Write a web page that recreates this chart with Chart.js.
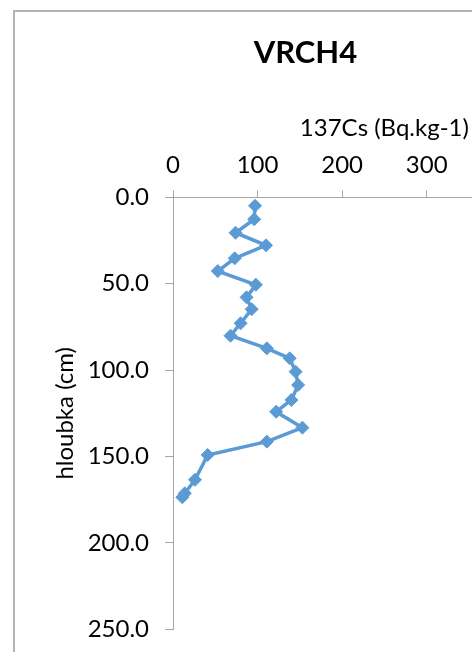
<!DOCTYPE html>
<html>
<head>
<meta charset="utf-8">
<script src="https://cdn.jsdelivr.net/npm/chart.js@4/dist/chart.umd.min.js"></script>
<style>
  html, body { margin: 0; padding: 0; background: #fff; overflow: hidden; width: 472px; height: 652px; }
  #frame { position: absolute; left: 13px; top: 10px; width: 640px; height: 700px; border: 2px solid #b4b4b4; background: #fff; }
  #c { position: absolute; left: 0; top: 0; }
</style>
</head>
<body>
<div id="frame"><canvas id="c" width="640" height="660"></canvas></div>
<script>
// Depth (cm) of each sample
const depths = [4.9, 12.7, 20.5, 27.8, 35.3, 42.7, 50.6, 57.9, 64.8, 72.9, 80.1, 87.4, 93.2, 100.9, 108.6, 117.3, 124.1, 133.3, 141.4, 149.1, 163.5, 171.3, 173.6];
// 137Cs activity (Bq/kg) at each depth
const activity = [97, 96, 74, 110, 73, 53, 98, 87, 93, 80, 68, 111, 138, 145, 148, 140, 122, 153, 111, 41, 26, 14, 11];
// Axis tick values
const xTicks = [0, 100, 200, 300, 400, 500];
const yTicks = [0, 50, 100, 150, 200, 250];

const chartTitle = 'VRCH4';
const xTitle = '137Cs (Bq.kg-1)';
const yTitle = 'hloubka (cm)';

const points = depths.map((d, i) => ({ x: activity[i], y: d }));
const FONT = 'Lato';
const AXIS = '#a6a6a6';
const BLUE = '#5b9bd5';

new Chart(document.getElementById('c'), {
  type: 'scatter',
  data: {
    datasets: [{
      data: points,
      showLine: true,
      borderColor: BLUE,
      backgroundColor: BLUE,
      borderWidth: 3.5,
      pointStyle: 'rectRot',
      pointRadius: 6.5,
      pointBorderWidth: 1,
      pointBorderColor: BLUE,
      pointBackgroundColor: BLUE,
      tension: 0
    }]
  },
  options: {
    responsive: false,
    animation: false,
    layout: { padding: { top: 22.4, left: 0, right: 59.2, bottom: 42.7 } },
    plugins: {
      legend: { display: false },
      tooltip: { enabled: false },
      title: {
        display: true,
        text: chartTitle,
        color: '#000',
        font: { family: FONT, size: 31, weight: 'bold' },
        padding: { top: 0, bottom: 0 }
      }
    },
    scales: {
      x: {
        type: 'linear',
        position: 'top',
        min: xTicks[0],
        max: xTicks[xTicks.length - 1],
        afterBuildTicks: s => { s.ticks = xTicks.map(v => ({ value: v })); },
        ticks: { color: '#000', font: { family: FONT, size: 24 }, padding: 10.5, maxRotation: 0 },
        grid: { display: true, drawOnChartArea: false, drawTicks: true, tickLength: 7, color: AXIS },
        border: { display: true, color: AXIS, width: 1 },
        title: { display: true, text: xTitle, color: '#000', font: { family: FONT, size: 24 }, padding: { top: 42, bottom: 0 } },
        afterFit: s => { s.height = 125.7; }
      },
      y: {
        type: 'linear',
        reverse: true,
        min: yTicks[0],
        max: yTicks[yTicks.length - 1],
        afterBuildTicks: s => { s.ticks = yTicks.map(v => ({ value: v })); },
        ticks: { color: '#000', font: { family: FONT, size: 24 }, padding: 16, callback: v => Number(v).toFixed(1) },
        grid: { display: true, drawOnChartArea: false, drawTicks: true, tickLength: 8, color: AXIS },
        border: { display: true, color: AXIS, width: 1 },
        title: { display: true, text: yTitle, color: '#000', font: { family: FONT, size: 24 }, padding: { top: 35.6, bottom: 0 } },
        afterFit: s => { s.width = 158; }
      }
    }
  }
});
</script>
</body>
</html>
